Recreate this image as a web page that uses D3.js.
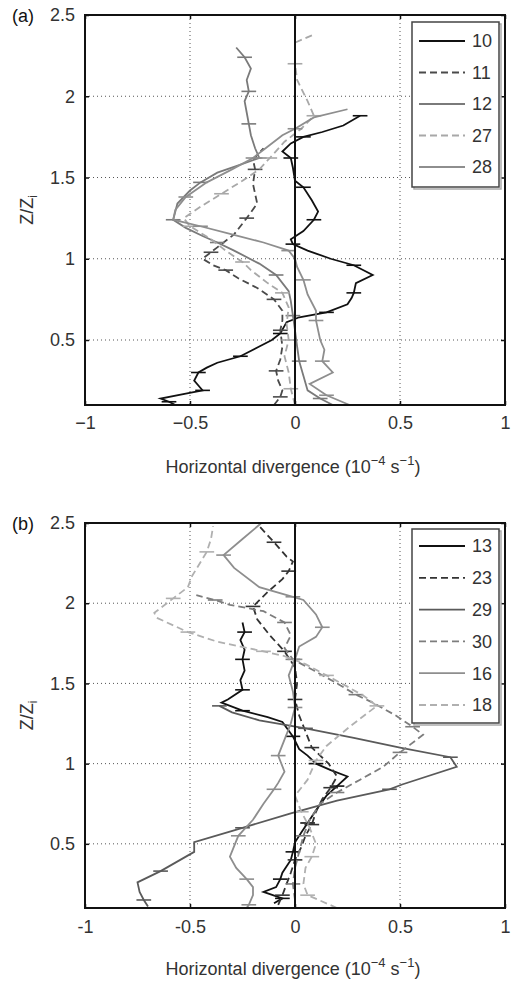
<!DOCTYPE html>
<html><head><meta charset="utf-8">
<script src="https://cdn.jsdelivr.net/npm/d3@7"></script>
<style>body{margin:0;background:#fff}svg{display:block}</style>
</head><body>
<script>
// ---------- data ----------
const xTicks = [-1, -0.5, 0, 0.5, 1];
const yTicks = [0.5, 1, 1.5, 2, 2.5];
const xGrid = [-0.5, 0.5];
const yGrid = [0.5, 1, 1.5, 2];

// panel (a) series: [Z/Zi, divergence]
const a10 = [[0.10,-0.57],[0.12,-0.60],[0.14,-0.64],[0.17,-0.52],[0.19,-0.44],[0.22,-0.46],[0.25,-0.48],[0.30,-0.46],[0.33,-0.42],[0.36,-0.37],[0.40,-0.26],[0.46,-0.17],[0.50,-0.11],[0.54,-0.07],[0.61,-0.04],[0.64,0.02],[0.67,0.15],[0.72,0.25],[0.76,0.27],[0.79,0.28],[0.85,0.29],[0.90,0.37],[0.96,0.28],[1.00,0.17],[1.05,0.06],[1.09,-0.01],[1.12,-0.02],[1.17,0.04],[1.24,0.09],[1.29,0.11],[1.36,0.08],[1.44,0.04],[1.48,0.00],[1.56,-0.01],[1.62,-0.02],[1.66,-0.06],[1.71,-0.02],[1.75,0.04],[1.78,0.13],[1.82,0.23],[1.88,0.31]];
const a11 = [[0.10,-0.10],[0.15,-0.07],[0.19,-0.06],[0.25,-0.08],[0.31,-0.09],[0.38,-0.07],[0.46,-0.06],[0.56,-0.07],[0.62,-0.06],[0.68,-0.06],[0.75,-0.10],[0.82,-0.18],[0.88,-0.27],[0.93,-0.33],[0.96,-0.39],[1.00,-0.44],[1.04,-0.40],[1.07,-0.37],[1.15,-0.29],[1.25,-0.23],[1.34,-0.18],[1.46,-0.20],[1.55,-0.19],[1.61,-0.20],[1.68,-0.15]];
const a12 = [[0.10,0.18],[0.14,0.12],[0.19,0.06],[0.28,0.04],[0.37,0.02],[0.46,0.01],[0.56,0.00],[0.65,-0.01],[0.74,-0.02],[0.80,-0.03],[0.90,-0.09],[0.97,-0.17],[1.05,-0.29],[1.10,-0.37],[1.14,-0.44],[1.19,-0.52],[1.24,-0.58],[1.34,-0.56],[1.42,-0.50],[1.47,-0.45],[1.53,-0.37],[1.57,-0.28],[1.62,-0.17],[1.68,-0.19],[1.76,-0.21],[1.83,-0.22],[1.90,-0.23],[1.97,-0.24],[2.03,-0.22],[2.10,-0.23],[2.17,-0.21],[2.24,-0.24],[2.30,-0.28]];
const a27 = [[0.10,0.00],[0.20,-0.02],[0.30,-0.03],[0.40,-0.05],[0.50,-0.03],[0.60,-0.04],[0.70,-0.03],[0.79,-0.06],[0.85,-0.13],[0.93,-0.21],[0.98,-0.25],[1.05,-0.33],[1.12,-0.40],[1.20,-0.50],[1.25,-0.53],[1.32,-0.45],[1.40,-0.35],[1.48,-0.25],[1.55,-0.17],[1.62,-0.12],[1.72,-0.05],[1.80,0.03],[1.88,0.09],[1.97,0.06],[2.10,0.01],[2.20,0.00],[2.33,0.00],[2.38,0.09]];
const a28 = [[0.10,0.26],[0.16,0.15],[0.23,0.07],[0.30,0.18],[0.37,0.13],[0.44,0.14],[0.50,0.12],[0.62,0.10],[0.68,0.10],[0.78,0.06],[0.87,0.04],[0.95,0.01],[1.00,0.00],[1.05,-0.03],[1.10,-0.15],[1.15,-0.30],[1.20,-0.45],[1.24,-0.58],[1.30,-0.57],[1.38,-0.52],[1.47,-0.42],[1.55,-0.30],[1.62,-0.20],[1.70,-0.12],[1.76,-0.06],[1.80,0.00],[1.87,0.09],[1.92,0.25]];

// panel (b) series
const b13 = [[0.13,-0.10],[0.16,-0.06],[0.20,-0.15],[0.23,-0.09],[0.28,-0.07],[0.32,-0.06],[0.40,-0.02],[0.45,-0.01],[0.51,0.00],[0.57,0.03],[0.63,0.06],[0.71,0.10],[0.80,0.15],[0.86,0.20],[0.92,0.25],[0.96,0.17],[1.00,0.10],[1.05,0.06],[1.09,0.02],[1.17,-0.01],[1.26,-0.06],[1.29,-0.13],[1.33,-0.25],[1.38,-0.35],[1.40,-0.32],[1.46,-0.25],[1.52,-0.26],[1.58,-0.24],[1.65,-0.25],[1.71,-0.24],[1.77,-0.26],[1.82,-0.24],[1.88,-0.25]];
const b23 = [[0.12,-0.08],[0.18,-0.06],[0.25,-0.04],[0.32,-0.02],[0.40,0.00],[0.48,0.03],[0.55,0.05],[0.62,0.08],[0.70,0.10],[0.78,0.13],[0.85,0.17],[0.92,0.20],[1.00,0.16],[1.10,0.08],[1.20,0.05],[1.30,0.02],[1.40,0.00],[1.50,0.01],[1.60,0.00],[1.70,-0.05],[1.80,-0.12],[1.90,-0.18],[1.98,-0.20],[2.07,-0.13],[2.15,-0.06],[2.20,-0.03],[2.26,-0.01],[2.29,-0.04],[2.38,-0.10],[2.48,-0.17]];
const b29 = [[0.11,-0.70],[0.15,-0.72],[0.20,-0.74],[0.26,-0.75],[0.33,-0.64],[0.45,-0.48],[0.51,-0.48],[0.60,-0.25],[0.69,-0.02],[0.77,0.20],[0.84,0.45],[0.87,0.51],[0.98,0.77],[1.04,0.74],[1.10,0.50],[1.16,0.28],[1.22,0.05],[1.27,-0.17],[1.32,-0.30],[1.36,-0.36]];
const b30 = [[0.15,0.00],[0.25,-0.01],[0.35,0.00],[0.45,0.02],[0.55,0.04],[0.65,0.07],[0.75,0.12],[0.82,0.20],[0.90,0.31],[0.98,0.42],[1.07,0.50],[1.12,0.55],[1.18,0.61],[1.23,0.56],[1.30,0.48],[1.38,0.37],[1.43,0.29],[1.50,0.20],[1.58,0.09],[1.65,-0.01],[1.72,-0.05],[1.80,-0.02],[1.88,-0.05],[1.95,-0.15],[1.99,-0.31],[2.02,-0.38],[2.05,-0.47]];
const b16 = [[0.10,-0.23],[0.12,-0.22],[0.18,-0.20],[0.23,-0.20],[0.28,-0.23],[0.35,-0.28],[0.42,-0.31],[0.55,-0.27],[0.65,-0.20],[0.75,-0.15],[0.84,-0.10],[0.88,-0.08],[0.95,-0.05],[1.05,-0.08],[1.15,-0.05],[1.25,-0.02],[1.35,0.00],[1.45,-0.01],[1.55,-0.03],[1.65,0.00],[1.73,0.02],[1.79,0.10],[1.85,0.13],[1.93,0.10],[2.02,0.04],[2.04,-0.01],[2.10,-0.17],[2.22,-0.29],[2.30,-0.34],[2.40,-0.25],[2.50,-0.16]];
const b18 = [[0.10,0.20],[0.18,0.06],[0.25,0.04],[0.35,0.05],[0.42,0.08],[0.50,0.10],[0.60,0.07],[0.70,0.03],[0.80,0.00],[0.90,0.06],[1.02,0.10],[1.11,0.15],[1.23,0.26],[1.36,0.39],[1.42,0.33],[1.48,0.25],[1.55,0.15],[1.62,0.05],[1.67,-0.05],[1.70,-0.15],[1.73,-0.26],[1.76,-0.37],[1.82,-0.51],[1.91,-0.66],[1.94,-0.67],[2.03,-0.58],[2.10,-0.51],[2.17,-0.49],[2.32,-0.42],[2.40,-0.40],[2.48,-0.39]];

const namesA = ["10","11","12","27","28"];
const namesB = ["13","23","29","30","16","18"];

// ---------- drawing ----------
const W = 515, H = 983;
const FONT = "'Liberation Sans', Arial, sans-serif";
const svg = d3.select("body").append("svg").attr("width", W).attr("height", H)
  .style("font-family", FONT);

const panels = [
  { label: "(a)", top: 15, bottom: 405, tickBase: 429, xlabBase: 473, minus: "\u2212",
    series: [a10, a11, a12, a27, a28], names: namesA,
    colors: ["#111", "#4a4a4a", "#7a7a7a", "#a8a8a8", "#8e8e8e"],
    dashed: [false, true, false, true, false],
    legend: { x: 412, y: 22, w: 87, h: 165, row0: 41, step: 31.5 } },
  { label: "(b)", top: 523, bottom: 908, tickBase: 933, xlabBase: 975, minus: "-",
    series: [b13, b23, b29, b30, b16, b18], names: namesB,
    colors: ["#111", "#333", "#5a5a5a", "#7d7d7d", "#8e8e8e", "#b0b0b0"],
    dashed: [false, true, false, true, false, true],
    legend: { x: 412, y: 529, w: 87, h: 194, row0: 546, step: 31.8 } }
];

const L = 85, R = 505;

panels.forEach(p => {
  const x = d3.scaleLinear().domain([-1, 1]).range([L, R]);
  const y = d3.scaleLinear().domain([0.1, 2.5]).range([p.bottom, p.top]);
  const g = svg.append("g");

  // grid
  g.selectAll(".gx").data(xGrid).join("line")
    .attr("x1", d => x(d)).attr("x2", d => x(d)).attr("y1", p.top).attr("y2", p.bottom)
    .attr("stroke", "#555").attr("stroke-width", 1).attr("stroke-dasharray", "1,3");
  g.selectAll(".gy").data(yGrid).join("line")
    .attr("y1", d => y(d)).attr("y2", d => y(d)).attr("x1", L).attr("x2", R)
    .attr("stroke", "#555").attr("stroke-width", 1).attr("stroke-dasharray", "1,3");

  // series
  const line = d3.line().x(d => x(d[1])).y(d => y(d[0]));
  p.series.forEach((s, i) => {
    g.append("path").datum(s).attr("d", line).attr("fill", "none")
      .attr("stroke", p.colors[i]).attr("stroke-width", 1.8)
      .attr("stroke-dasharray", p.dashed[i] ? "7,4" : null);
    g.selectAll(null).data(s.filter((d, k) => k % 3 === 1)).join("line")
      .attr("x1", d => x(d[1] - 0.035)).attr("x2", d => x(d[1] + 0.035))
      .attr("y1", d => y(d[0])).attr("y2", d => y(d[0]))
      .attr("stroke", p.colors[i]).attr("stroke-width", 1.6);
  });

  // zero line
  g.append("line").attr("x1", x(0)).attr("x2", x(0)).attr("y1", p.top).attr("y2", p.bottom)
    .attr("stroke", "#111").attr("stroke-width", 2);

  // axes
  const fmt = d => d === 0 ? "0" : String(d).replace("-", p.minus);
  const xa = d3.axisBottom(x).tickValues(xTicks).tickSize(-4).tickPadding(0).tickFormat(fmt);
  const xt = g.append("g").attr("transform", `translate(0,${p.bottom})`).call(xa);
  const ya = d3.axisLeft(y).tickValues(yTicks).tickSize(-4).tickPadding(10).tickFormat(d => String(d));
  const yt = g.append("g").attr("transform", `translate(${L},0)`).call(ya);
  g.append("g").attr("transform", `translate(0,${p.top})`)
    .call(d3.axisTop(x).tickValues(xTicks).tickSize(-4).tickFormat(""));
  g.append("g").attr("transform", `translate(${R},0)`)
    .call(d3.axisRight(y).tickValues(yTicks).tickSize(-4).tickFormat(""));
  g.selectAll(".domain").remove();
  g.selectAll(".tick line").attr("stroke", "#111").attr("stroke-width", 1.5);
  xt.selectAll("text").attr("y", null).attr("dy", null)
    .attr("transform", `translate(0,${p.tickBase - p.bottom})`)
    .attr("font-size", 18).attr("fill", "#333").attr("font-family", FONT);
  yt.selectAll("text").attr("font-size", 18).attr("fill", "#333").attr("font-family", FONT);

  // frame
  g.append("rect").attr("x", L).attr("y", p.top).attr("width", R - L).attr("height", p.bottom - p.top)
    .attr("fill", "none").attr("stroke", "#111").attr("stroke-width", 2);

  // legend
  const lg = p.legend;
  g.append("rect").attr("x", lg.x + 2).attr("y", lg.y + 2).attr("width", lg.w).attr("height", lg.h)
    .attr("fill", "none").attr("stroke", "#aaa").attr("stroke-width", 1.5);
  g.append("rect").attr("x", lg.x).attr("y", lg.y).attr("width", lg.w).attr("height", lg.h)
    .attr("fill", "#fff").attr("stroke", "#444").attr("stroke-width", 1.5);
  p.names.forEach((n, i) => {
    const yy = lg.row0 + i * lg.step;
    g.append("line").attr("x1", lg.x + 7).attr("x2", lg.x + 53).attr("y1", yy).attr("y2", yy)
      .attr("stroke", p.colors[i]).attr("stroke-width", 1.8)
      .attr("stroke-dasharray", p.dashed[i] ? "7,4" : null);
    g.append("text").attr("x", lg.x + 60).attr("y", yy).attr("dy", "0.36em")
      .attr("font-size", 18).attr("fill", "#333").text(n);
  });

  // panel label
  g.append("text").attr("x", 12).attr("y", p.top + 7).attr("font-size", 18).attr("fill", "#111").text(p.label);

  // y label
  const yl = g.append("text").attr("transform", `translate(33,${(p.top + p.bottom) / 2}) rotate(-90)`)
    .attr("text-anchor", "middle").attr("font-size", 18).attr("fill", "#333");
  yl.append("tspan").text("Z/Z");
  yl.append("tspan").attr("font-size", 12).attr("dy", 4).text("i");

  // x label
  const xl = svg.append("text").attr("x", 293).attr("y", p.xlabBase).attr("text-anchor", "middle")
    .attr("font-size", 18).attr("fill", "#333");
  xl.append("tspan").text("Horizontal divergence (10");
  xl.append("tspan").attr("font-size", 13).attr("dy", -8).text("\u22124");
  xl.append("tspan").attr("dy", 8).text(" s");
  xl.append("tspan").attr("font-size", 13).attr("dy", -8).text("\u22121");
  xl.append("tspan").attr("dy", 8).text(")");
});
</script>
</body></html>
